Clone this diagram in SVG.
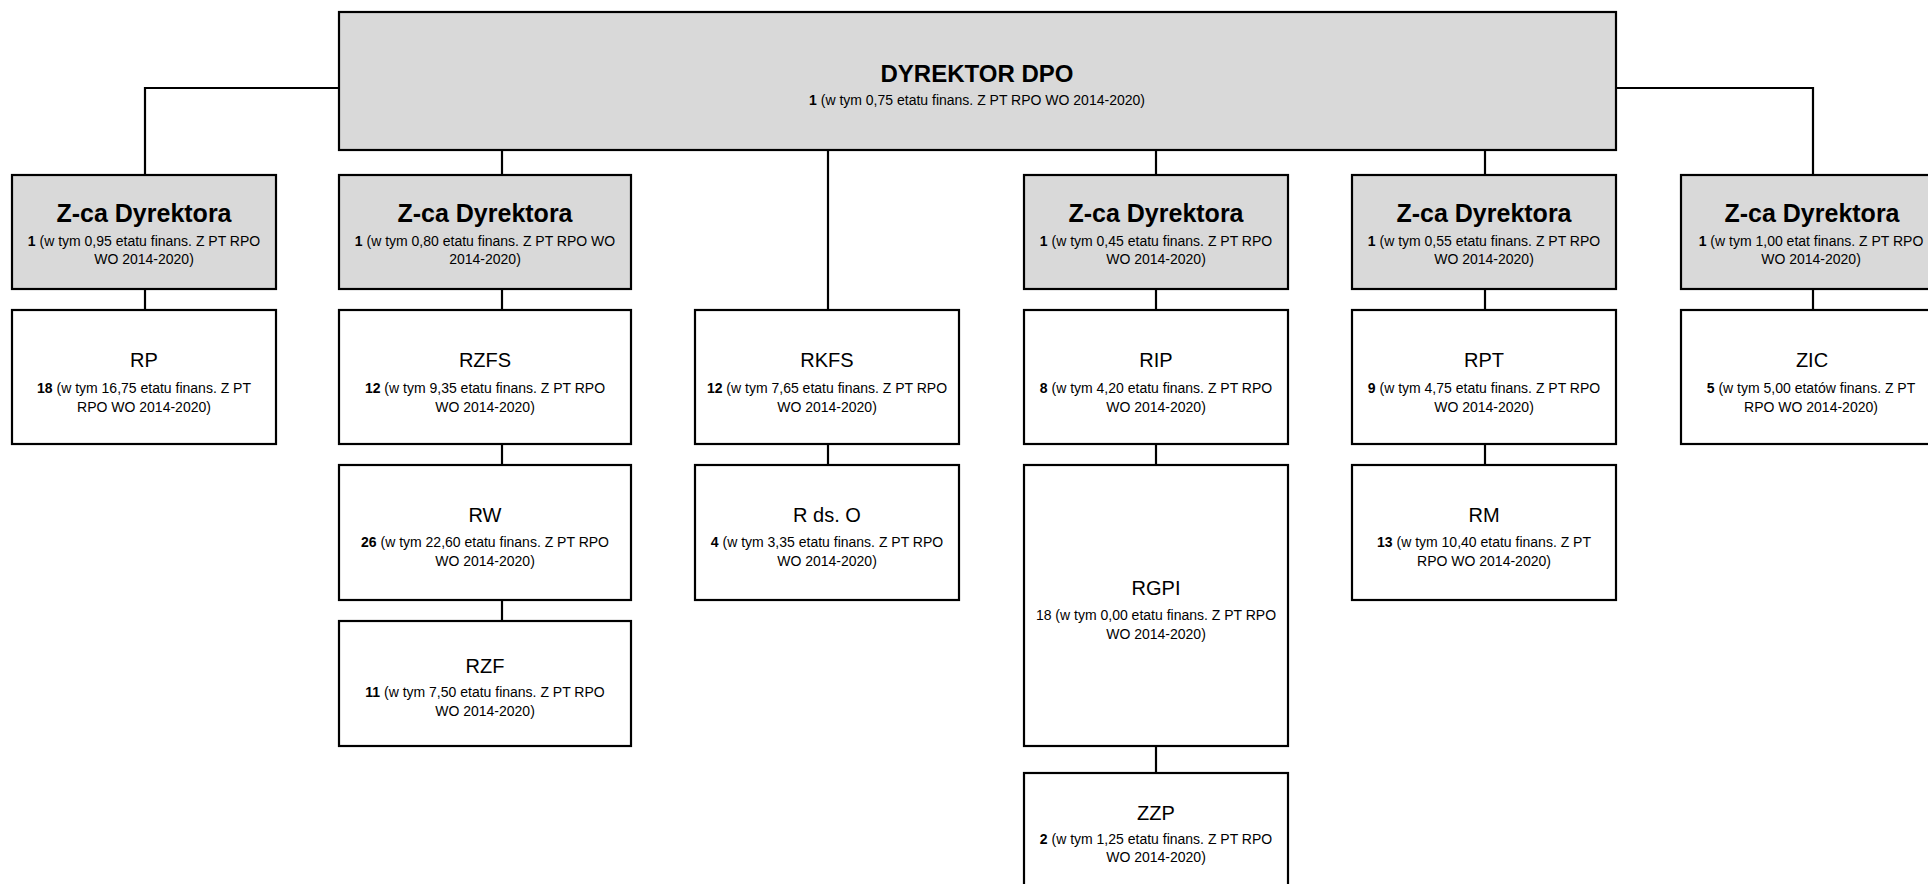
<svg xmlns="http://www.w3.org/2000/svg" width="1928" height="884" viewBox="0 0 1928 884">
<style>
.box{stroke:#000;stroke-width:2.2;fill:#fff}
.grey{fill:#d9d9d9}
.con{stroke:#000;stroke-width:2.2;fill:none}
text{font-family:"Liberation Sans",Arial,sans-serif;fill:#000;text-anchor:middle}
.h0{font-size:24px;font-weight:bold}
.h1{font-size:25px;font-weight:bold}
.h2{font-size:20px}
.s{font-size:14px}
.b{font-weight:bold}
</style>
<rect width="1928" height="884" fill="#fff"/>
<g id="connectors">
<path class="con" d="M339,88 H145 V175"/>
<path class="con" d="M1616,88 H1813 V175"/>
<path class="con" d="M502,150 V175"/>
<path class="con" d="M828,150 V310"/>
<path class="con" d="M1156,150 V175"/>
<path class="con" d="M1485,150 V175"/>
<path class="con" d="M145,289 V310"/>
<path class="con" d="M502,289 V310"/>
<path class="con" d="M502,444 V465"/>
<path class="con" d="M502,600 V621"/>
<path class="con" d="M828,444 V465"/>
<path class="con" d="M1156,289 V310"/>
<path class="con" d="M1156,444 V465"/>
<path class="con" d="M1156,746 V773"/>
<path class="con" d="M1485,289 V310"/>
<path class="con" d="M1485,444 V465"/>
<path class="con" d="M1813,289 V310"/>
</g>
<g id="dyrektor">
<rect class="box grey" x="339" y="12" width="1277" height="138"/>
<text class="h0" x="977" y="82">DYREKTOR DPO</text>
<text class="s" x="977" y="105"><tspan class="b">1</tspan> (w tym 0,75 etatu finans. Z PT RPO WO 2014-2020)</text>
</g>
<g id="zca1">
<rect class="box grey" x="12" y="175" width="264" height="114"/>
<text class="h1" x="144" y="222">Z-ca Dyrektora</text>
<text class="s" x="144" y="246"><tspan class="b">1</tspan> (w tym 0,95 etatu finans. Z PT RPO</text>
<text class="s" x="144" y="264">WO 2014-2020)</text>
</g>
<g id="zca2">
<rect class="box grey" x="339" y="175" width="292" height="114"/>
<text class="h1" x="485" y="222">Z-ca Dyrektora</text>
<text class="s" x="485" y="246"><tspan class="b">1</tspan> (w tym 0,80 etatu finans. Z PT RPO WO</text>
<text class="s" x="485" y="264">2014-2020)</text>
</g>
<g id="zca4">
<rect class="box grey" x="1024" y="175" width="264" height="114"/>
<text class="h1" x="1156" y="222">Z-ca Dyrektora</text>
<text class="s" x="1156" y="246"><tspan class="b">1</tspan> (w tym 0,45 etatu finans. Z PT RPO</text>
<text class="s" x="1156" y="264">WO 2014-2020)</text>
</g>
<g id="zca5">
<rect class="box grey" x="1352" y="175" width="264" height="114"/>
<text class="h1" x="1484" y="222">Z-ca Dyrektora</text>
<text class="s" x="1484" y="246"><tspan class="b">1</tspan> (w tym 0,55 etatu finans. Z PT RPO</text>
<text class="s" x="1484" y="264">WO 2014-2020)</text>
</g>
<g id="zca6">
<rect class="box grey" x="1681" y="175" width="264" height="114"/>
<text class="h1" x="1812" y="222">Z-ca Dyrektora</text>
<text class="s" x="1811" y="246"><tspan class="b">1</tspan> (w tym 1,00 etat finans. Z PT RPO</text>
<text class="s" x="1811" y="264">WO 2014-2020)</text>
</g>
<g id="rp">
<rect class="box" x="12" y="310" width="264" height="134"/>
<text class="h2" x="144" y="367">RP</text>
<text class="s" x="144" y="393"><tspan class="b">18</tspan> (w tym 16,75 etatu finans. Z PT</text>
<text class="s" x="144" y="412">RPO WO 2014-2020)</text>
</g>
<g id="rzfs">
<rect class="box" x="339" y="310" width="292" height="134"/>
<text class="h2" x="485" y="367">RZFS</text>
<text class="s" x="485" y="393"><tspan class="b">12</tspan> (w tym 9,35 etatu finans. Z PT RPO</text>
<text class="s" x="485" y="412">WO 2014-2020)</text>
</g>
<g id="rkfs">
<rect class="box" x="695" y="310" width="264" height="134"/>
<text class="h2" x="827" y="367">RKFS</text>
<text class="s" x="827" y="393"><tspan class="b">12</tspan> (w tym 7,65 etatu finans. Z PT RPO</text>
<text class="s" x="827" y="412">WO 2014-2020)</text>
</g>
<g id="rip">
<rect class="box" x="1024" y="310" width="264" height="134"/>
<text class="h2" x="1156" y="367">RIP</text>
<text class="s" x="1156" y="393"><tspan class="b">8</tspan> (w tym 4,20 etatu finans. Z PT RPO</text>
<text class="s" x="1156" y="412">WO 2014-2020)</text>
</g>
<g id="rpt">
<rect class="box" x="1352" y="310" width="264" height="134"/>
<text class="h2" x="1484" y="367">RPT</text>
<text class="s" x="1484" y="393"><tspan class="b">9</tspan> (w tym 4,75 etatu finans. Z PT RPO</text>
<text class="s" x="1484" y="412">WO 2014-2020)</text>
</g>
<g id="zic">
<rect class="box" x="1681" y="310" width="264" height="134"/>
<text class="h2" x="1812" y="367">ZIC</text>
<text class="s" x="1811" y="393"><tspan class="b">5</tspan> (w tym 5,00 etatów finans. Z PT</text>
<text class="s" x="1811" y="412">RPO WO 2014-2020)</text>
</g>
<g id="rw">
<rect class="box" x="339" y="465" width="292" height="135"/>
<text class="h2" x="485" y="522">RW</text>
<text class="s" x="485" y="547"><tspan class="b">26</tspan> (w tym 22,60 etatu finans. Z PT RPO</text>
<text class="s" x="485" y="566">WO 2014-2020)</text>
</g>
<g id="rdso">
<rect class="box" x="695" y="465" width="264" height="135"/>
<text class="h2" x="827" y="522">R ds. O</text>
<text class="s" x="827" y="547"><tspan class="b">4</tspan> (w tym 3,35 etatu finans. Z PT RPO</text>
<text class="s" x="827" y="566">WO 2014-2020)</text>
</g>
<g id="rgpi">
<rect class="box" x="1024" y="465" width="264" height="281"/>
<text class="h2" x="1156" y="595">RGPI</text>
<text class="s" x="1156" y="620">18 (w tym 0,00 etatu finans. Z PT RPO</text>
<text class="s" x="1156" y="639">WO 2014-2020)</text>
</g>
<g id="rm">
<rect class="box" x="1352" y="465" width="264" height="135"/>
<text class="h2" x="1484" y="522">RM</text>
<text class="s" x="1484" y="547"><tspan class="b">13</tspan> (w tym 10,40 etatu finans. Z PT</text>
<text class="s" x="1484" y="566">RPO WO 2014-2020)</text>
</g>
<g id="rzf">
<rect class="box" x="339" y="621" width="292" height="125"/>
<text class="h2" x="485" y="673">RZF</text>
<text class="s" x="485" y="697"><tspan class="b">11</tspan> (w tym 7,50 etatu finans. Z PT RPO</text>
<text class="s" x="485" y="716">WO 2014-2020)</text>
</g>
<g id="zzp">
<rect class="box" x="1024" y="773" width="264" height="116"/>
<text class="h2" x="1156" y="820">ZZP</text>
<text class="s" x="1156" y="844"><tspan class="b">2</tspan> (w tym 1,25 etatu finans. Z PT RPO</text>
<text class="s" x="1156" y="862">WO 2014-2020)</text>
</g>
</svg>
